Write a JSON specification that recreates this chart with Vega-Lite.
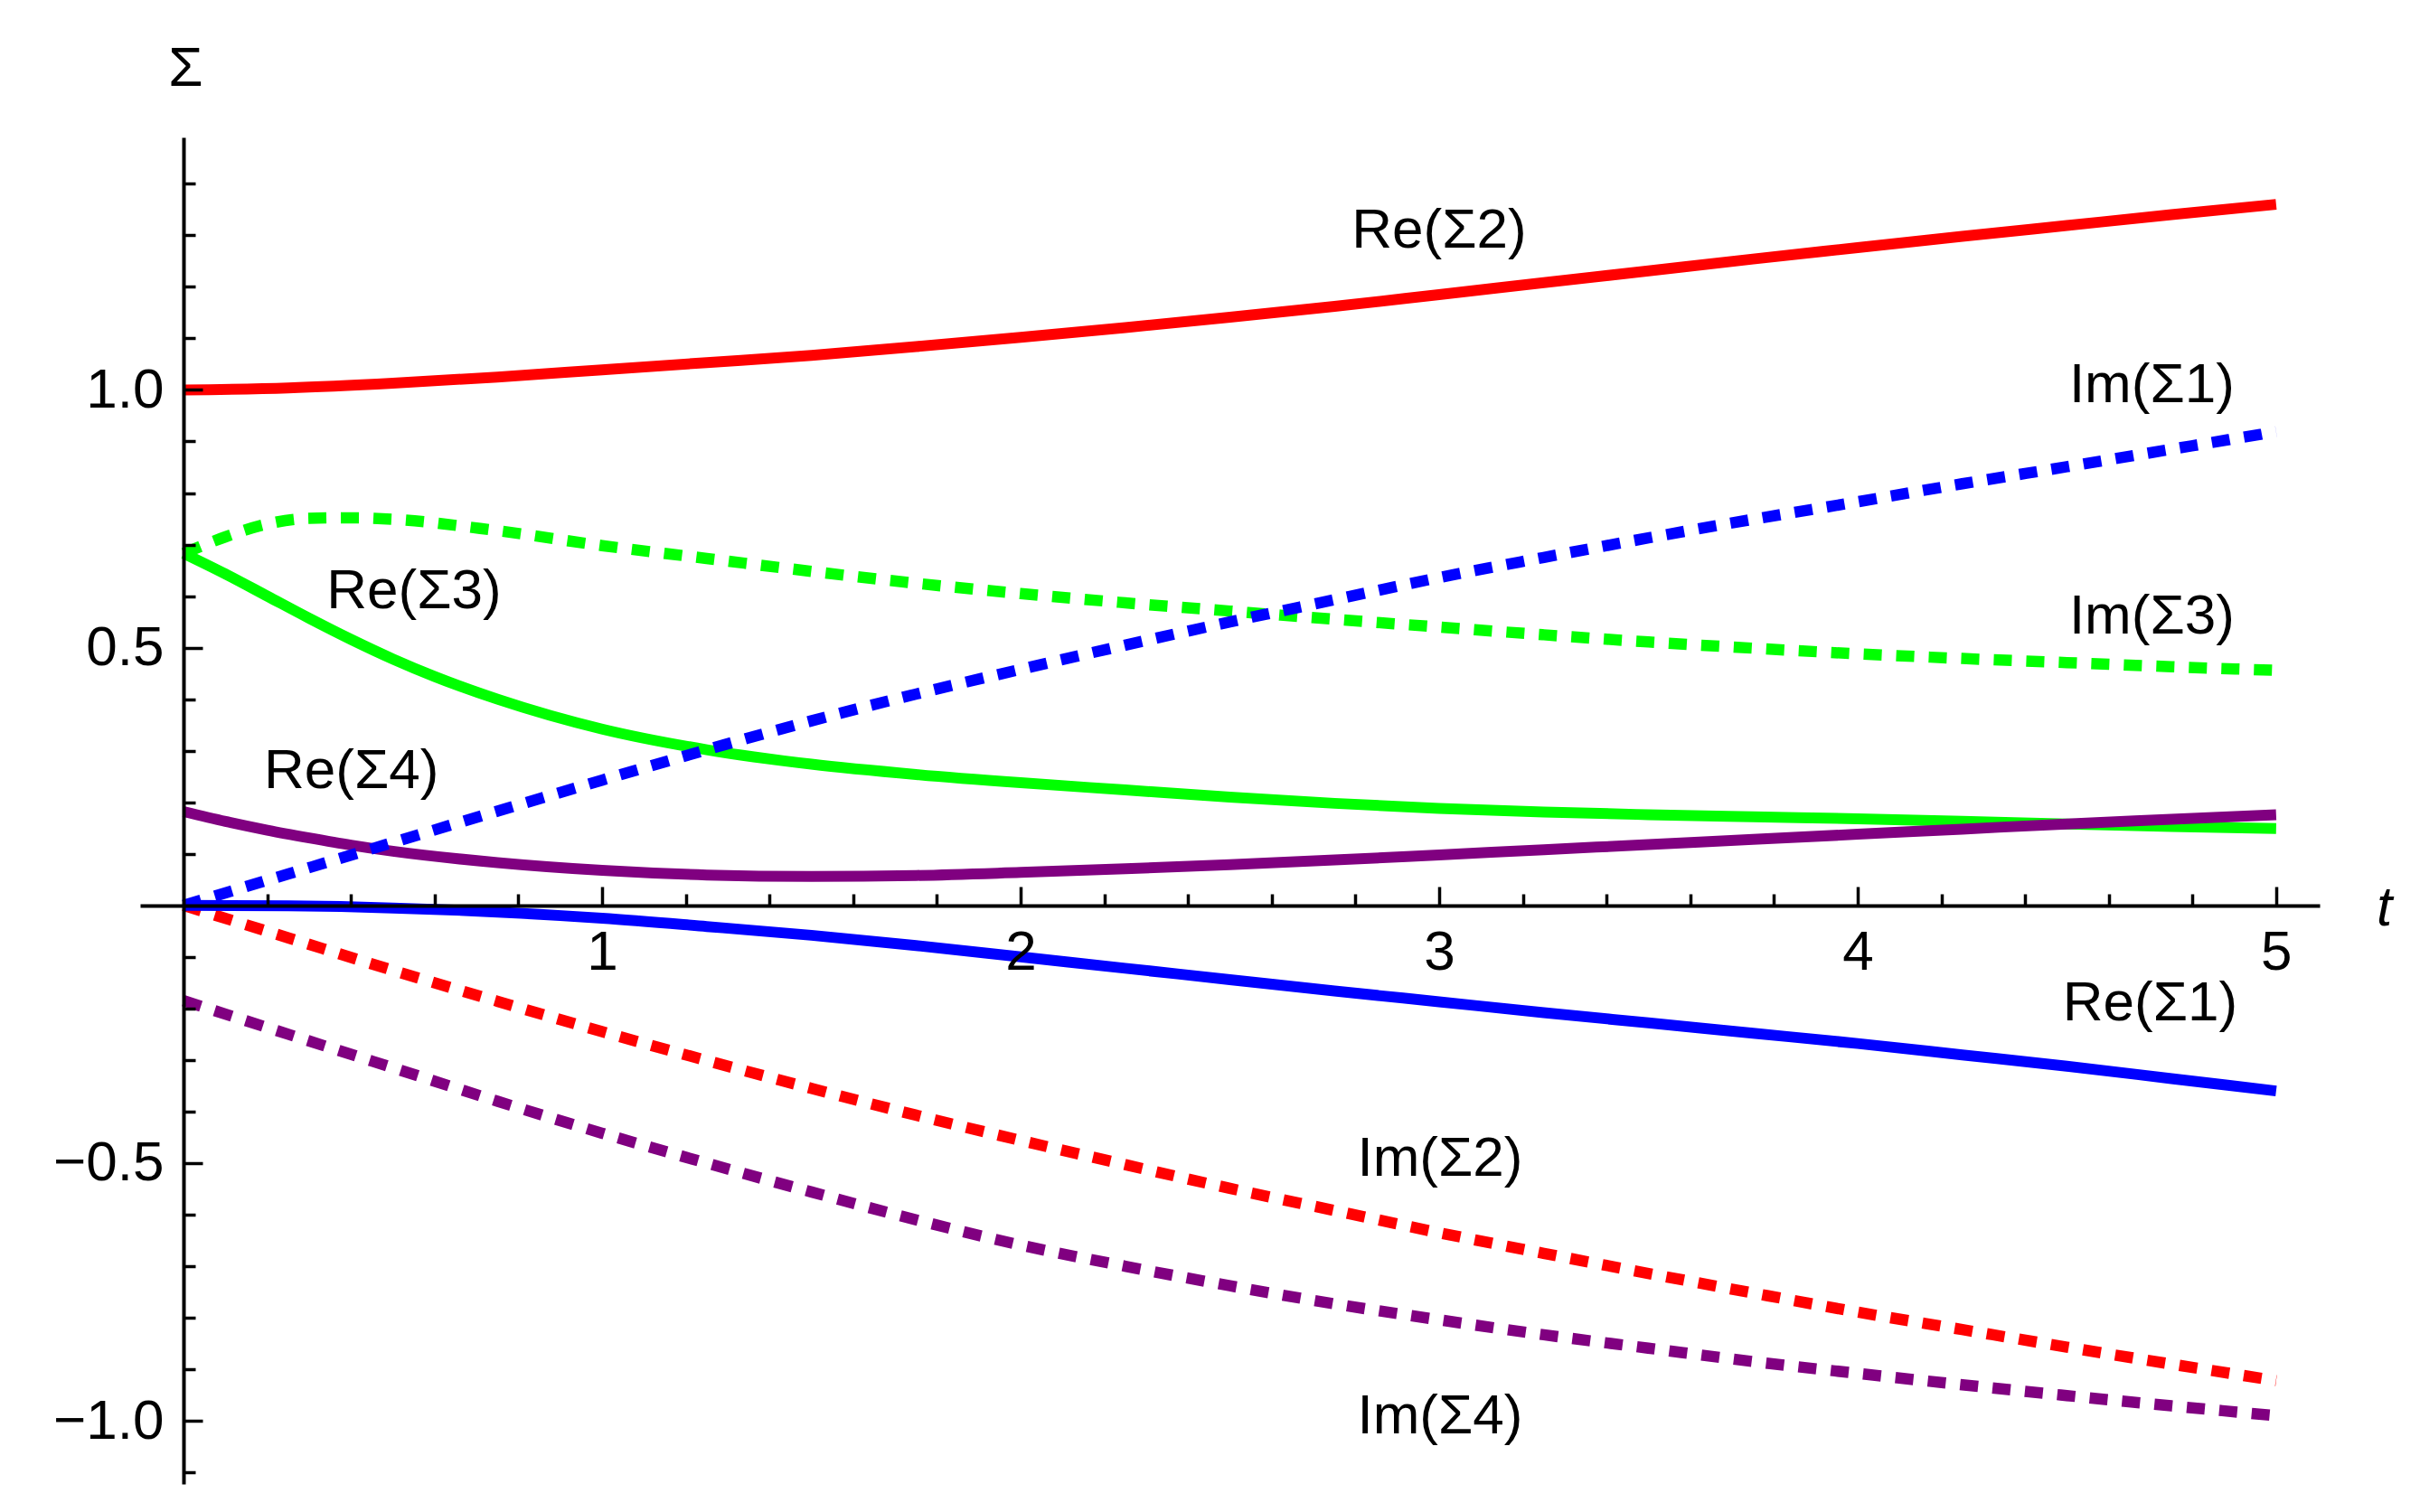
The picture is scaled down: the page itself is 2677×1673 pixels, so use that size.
{
  "$schema": "https://vega.github.io/schema/vega-lite/v6.json",
  "width": 2411,
  "height": 1490,
  "autosize": {"type": "none"},
  "padding": {"left": 155, "top": 152, "right": 111, "bottom": 31},
  "background": "white",
  "config": {"view": {"stroke": null}, "font": "Liberation Sans"},
  "datasets": {
    "re1": [
      {"t": 0, "v": 0}, {"t": 0.25, "v": -0.001}, {"t": 0.5, "v": -0.005}, {"t": 0.75, "v": -0.013},
      {"t": 1, "v": -0.025}, {"t": 1.25, "v": -0.041}, {"t": 1.5, "v": -0.058}, {"t": 1.75, "v": -0.078},
      {"t": 2, "v": -0.1}, {"t": 2.25, "v": -0.122}, {"t": 2.5, "v": -0.144}, {"t": 2.75, "v": -0.166},
      {"t": 3, "v": -0.187}, {"t": 3.25, "v": -0.208}, {"t": 3.5, "v": -0.228}, {"t": 3.75, "v": -0.248},
      {"t": 4, "v": -0.268}, {"t": 4.25, "v": -0.29}, {"t": 4.5, "v": -0.312}, {"t": 4.75, "v": -0.336},
      {"t": 5, "v": -0.36}
    ],
    "im1": [
      {"t": 0, "v": 0}, {"t": 0.25, "v": 0.061}, {"t": 0.5, "v": 0.122}, {"t": 0.75, "v": 0.183},
      {"t": 1, "v": 0.243}, {"t": 1.25, "v": 0.302}, {"t": 1.5, "v": 0.358}, {"t": 1.75, "v": 0.41},
      {"t": 2, "v": 0.458}, {"t": 2.25, "v": 0.505}, {"t": 2.5, "v": 0.55}, {"t": 2.75, "v": 0.593},
      {"t": 3, "v": 0.636}, {"t": 3.25, "v": 0.675}, {"t": 3.5, "v": 0.713}, {"t": 3.75, "v": 0.749},
      {"t": 4, "v": 0.783}, {"t": 4.25, "v": 0.818}, {"t": 4.5, "v": 0.851}, {"t": 4.75, "v": 0.885},
      {"t": 5, "v": 0.919}
    ],
    "re2": [
      {"t": 0, "v": 1.0}, {"t": 0.25, "v": 1.004}, {"t": 0.5, "v": 1.013}, {"t": 0.75, "v": 1.025},
      {"t": 1, "v": 1.039}, {"t": 1.25, "v": 1.053}, {"t": 1.5, "v": 1.067}, {"t": 1.75, "v": 1.084},
      {"t": 2, "v": 1.102}, {"t": 2.25, "v": 1.121}, {"t": 2.5, "v": 1.141}, {"t": 2.75, "v": 1.162},
      {"t": 3, "v": 1.185}, {"t": 3.25, "v": 1.208}, {"t": 3.5, "v": 1.231}, {"t": 3.75, "v": 1.254},
      {"t": 4, "v": 1.276}, {"t": 4.25, "v": 1.298}, {"t": 4.5, "v": 1.319}, {"t": 4.75, "v": 1.34},
      {"t": 5, "v": 1.36}
    ],
    "im2": [
      {"t": 0, "v": 0}, {"t": 0.25, "v": -0.063}, {"t": 0.5, "v": -0.126}, {"t": 0.75, "v": -0.186},
      {"t": 1, "v": -0.245}, {"t": 1.25, "v": -0.301}, {"t": 1.5, "v": -0.355}, {"t": 1.75, "v": -0.407},
      {"t": 2, "v": -0.456}, {"t": 2.25, "v": -0.503}, {"t": 2.5, "v": -0.549}, {"t": 2.75, "v": -0.592},
      {"t": 3, "v": -0.635}, {"t": 3.25, "v": -0.675}, {"t": 3.5, "v": -0.714}, {"t": 3.75, "v": -0.752},
      {"t": 4, "v": -0.789}, {"t": 4.25, "v": -0.823}, {"t": 4.5, "v": -0.857}, {"t": 4.75, "v": -0.89},
      {"t": 5, "v": -0.922}
    ],
    "re3": [
      {"t": 0, "v": 0.683}, {"t": 0.1, "v": 0.643}, {"t": 0.2, "v": 0.6}, {"t": 0.3, "v": 0.557},
      {"t": 0.4, "v": 0.516}, {"t": 0.5, "v": 0.478}, {"t": 0.6, "v": 0.444}, {"t": 0.75, "v": 0.4},
      {"t": 1, "v": 0.342}, {"t": 1.25, "v": 0.302}, {"t": 1.5, "v": 0.274}, {"t": 1.75, "v": 0.254},
      {"t": 2, "v": 0.238}, {"t": 2.25, "v": 0.224}, {"t": 2.5, "v": 0.21}, {"t": 2.75, "v": 0.198},
      {"t": 3, "v": 0.188}, {"t": 3.25, "v": 0.181}, {"t": 3.5, "v": 0.176}, {"t": 3.75, "v": 0.172},
      {"t": 4, "v": 0.168}, {"t": 4.25, "v": 0.163}, {"t": 4.5, "v": 0.158}, {"t": 4.75, "v": 0.153},
      {"t": 5, "v": 0.149}
    ],
    "im3": [
      {"t": 0, "v": 0.683}, {"t": 0.1, "v": 0.715}, {"t": 0.2, "v": 0.74}, {"t": 0.3, "v": 0.751},
      {"t": 0.4, "v": 0.752}, {"t": 0.5, "v": 0.749}, {"t": 0.75, "v": 0.727}, {"t": 1, "v": 0.698},
      {"t": 1.25, "v": 0.673}, {"t": 1.5, "v": 0.648}, {"t": 1.75, "v": 0.625}, {"t": 2, "v": 0.605},
      {"t": 2.25, "v": 0.587}, {"t": 2.5, "v": 0.571}, {"t": 2.75, "v": 0.555}, {"t": 3, "v": 0.54},
      {"t": 3.25, "v": 0.525}, {"t": 3.5, "v": 0.511}, {"t": 3.75, "v": 0.499}, {"t": 4, "v": 0.488},
      {"t": 4.25, "v": 0.479}, {"t": 4.5, "v": 0.471}, {"t": 4.75, "v": 0.463}, {"t": 5, "v": 0.456}
    ],
    "re4": [
      {"t": 0, "v": 0.182}, {"t": 0.1, "v": 0.163}, {"t": 0.2, "v": 0.146}, {"t": 0.3, "v": 0.131},
      {"t": 0.4, "v": 0.117}, {"t": 0.5, "v": 0.105}, {"t": 0.75, "v": 0.083}, {"t": 1, "v": 0.068},
      {"t": 1.25, "v": 0.059}, {"t": 1.5, "v": 0.056}, {"t": 1.75, "v": 0.058}, {"t": 2, "v": 0.064},
      {"t": 2.25, "v": 0.071}, {"t": 2.5, "v": 0.079}, {"t": 2.75, "v": 0.088}, {"t": 3, "v": 0.098},
      {"t": 3.25, "v": 0.108}, {"t": 3.5, "v": 0.118}, {"t": 3.75, "v": 0.128}, {"t": 4, "v": 0.138},
      {"t": 4.25, "v": 0.148}, {"t": 4.5, "v": 0.158}, {"t": 4.75, "v": 0.167}, {"t": 5, "v": 0.176}
    ],
    "im4": [
      {"t": 0, "v": -0.185}, {"t": 0.25, "v": -0.25}, {"t": 0.5, "v": -0.315}, {"t": 0.75, "v": -0.38},
      {"t": 1, "v": -0.442}, {"t": 1.25, "v": -0.5}, {"t": 1.5, "v": -0.556}, {"t": 1.75, "v": -0.61},
      {"t": 2, "v": -0.659}, {"t": 2.25, "v": -0.7}, {"t": 2.5, "v": -0.738}, {"t": 2.75, "v": -0.773},
      {"t": 3, "v": -0.804}, {"t": 3.25, "v": -0.833}, {"t": 3.5, "v": -0.859}, {"t": 3.75, "v": -0.885},
      {"t": 4, "v": -0.908}, {"t": 4.25, "v": -0.93}, {"t": 4.5, "v": -0.951}, {"t": 4.75, "v": -0.971},
      {"t": 5, "v": -0.99}
    ],
    "labels": [
      {"label": "Re(Σ2)", "t": 3.0, "v": 1.309},
      {"label": "Im(Σ1)", "t": 4.703, "v": 1.009},
      {"label": "Im(Σ3)", "t": 4.703, "v": 0.5615},
      {"label": "Re(Σ3)", "t": 0.5505, "v": 0.61},
      {"label": "Re(Σ4)", "t": 0.4007, "v": 0.261},
      {"label": "Re(Σ1)", "t": 4.699, "v": -0.189},
      {"label": "Im(Σ2)", "t": 3.002, "v": -0.491},
      {"label": "Im(Σ4)", "t": 3.002, "v": -0.991}
    ]
  },
  "encoding": {
    "x": {
      "field": "t",
      "type": "quantitative",
      "scale": {"domain": [-0.104, 5.104], "nice": false, "zero": false},
      "axis": {
        "orient": "bottom",
        "offset": -640,
        "zindex": 1,
        "grid": false,
        "values": [0.2, 0.4, 0.6, 0.8, 1, 1.2, 1.4, 1.6, 1.8, 2, 2.2, 2.4, 2.6, 2.8, 3, 3.2, 3.4, 3.6, 3.8, 4, 4.2, 4.4, 4.6, 4.8, 5],
        "domainColor": "black",
        "domainWidth": 4,
        "tickColor": "black",
        "tickWidth": 3.5,
        "tickSize": {"condition": {"test": "abs(datum.value - round(datum.value)) < 0.001", "value": -21}, "value": -13},
        "labelExpr": "abs(datum.value - round(datum.value)) < 0.001 ? '' + round(datum.value) : ''",
        "labelFont": "Liberation Sans",
        "labelFontSize": 62,
        "labelColor": "black",
        "labelPadding": 42,
        "labelOverlap": false,
        "labelFlush": false,
        "labelBound": false,
        "title": "t",
        "titleFont": "Liberation Sans",
        "titleFontSize": 62,
        "titleFontStyle": "italic",
        "titleFontWeight": "normal",
        "titleColor": "black",
        "titleAngle": 0,
        "titleAlign": "center",
        "titleBaseline": "middle",
        "titleX": 2482,
        "titleY": 2
      }
    },
    "y": {
      "field": "v",
      "type": "quantitative",
      "scale": {"domain": [-1.1225, 1.49], "nice": false, "zero": false},
      "axis": {
        "orient": "left",
        "offset": -48,
        "zindex": 1,
        "grid": false,
        "values": [-1.1, -1.0, -0.9, -0.8, -0.7, -0.6, -0.5, -0.4, -0.3, -0.2, -0.1, 0.1, 0.2, 0.3, 0.4, 0.5, 0.6, 0.7, 0.8, 0.9, 1.0, 1.1, 1.2, 1.3, 1.4],
        "format": ".1f",
        "domainColor": "black",
        "domainWidth": 4,
        "tickColor": "black",
        "tickWidth": 3.5,
        "tickSize": {"condition": {"test": "abs(datum.value * 2 - round(datum.value * 2)) < 0.001", "value": -21}, "value": -13},
        "labelExpr": "abs(datum.value * 2 - round(datum.value * 2)) < 0.001 ? datum.label : ''",
        "labelFont": "Liberation Sans",
        "labelFontSize": 62,
        "labelColor": "black",
        "labelPadding": 43,
        "labelOverlap": false,
        "labelFlush": false,
        "labelBound": false,
        "title": "Σ",
        "titleFont": "Liberation Sans",
        "titleFontSize": 62,
        "titleFontWeight": "normal",
        "titleColor": "black",
        "titleAngle": 0,
        "titleAlign": "center",
        "titleBaseline": "middle",
        "titleX": 2,
        "titleY": -77
      }
    }
  },
  "layer": [
    {"data": {"name": "re3"}, "mark": {"type": "line", "color": "#00FF00", "strokeWidth": 12, "interpolate": "monotone", "strokeCap": "butt"}},
    {"data": {"name": "im3"}, "mark": {"type": "line", "color": "#00FF00", "strokeWidth": 12.5, "strokeDash": [20, 16], "interpolate": "monotone", "strokeCap": "butt"}},
    {"data": {"name": "re4"}, "mark": {"type": "line", "color": "#800080", "strokeWidth": 12, "interpolate": "monotone", "strokeCap": "butt"}},
    {"data": {"name": "re2"}, "mark": {"type": "line", "color": "#FF0000", "strokeWidth": 12, "interpolate": "monotone", "strokeCap": "butt"}},
    {"data": {"name": "im2"}, "mark": {"type": "line", "color": "#FF0000", "strokeWidth": 12.5, "strokeDash": [20, 16], "interpolate": "monotone", "strokeCap": "butt"}},
    {"data": {"name": "im4"}, "mark": {"type": "line", "color": "#800080", "strokeWidth": 12.5, "strokeDash": [20, 16], "interpolate": "monotone", "strokeCap": "butt"}},
    {"data": {"name": "re1"}, "mark": {"type": "line", "color": "#0000FF", "strokeWidth": 12, "interpolate": "monotone", "strokeCap": "butt"}},
    {"data": {"name": "im1"}, "mark": {"type": "line", "color": "#0000FF", "strokeWidth": 12.5, "strokeDash": [20, 16], "interpolate": "monotone", "strokeCap": "butt"}},
    {"data": {"name": "labels"}, "mark": {"type": "text", "font": "Liberation Sans", "fontSize": 62, "align": "center", "baseline": "middle", "color": "black"}, "encoding": {"text": {"field": "label"}}}
  ]
}
